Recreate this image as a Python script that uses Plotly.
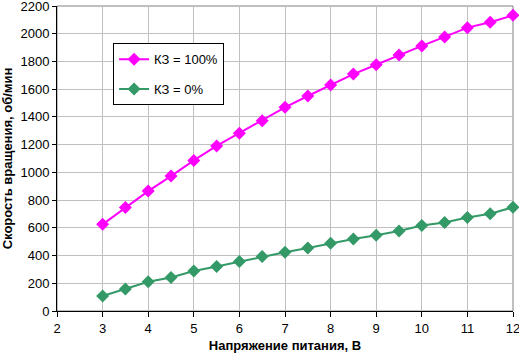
import plotly.graph_objects as go

voltage = [3, 3.5, 4, 4.5, 5, 5.5, 6, 6.5, 7, 7.5, 8, 8.5, 9, 9.5, 10, 10.5, 11, 11.5, 12]
rpm_100 = [625, 746, 865, 973, 1086, 1191, 1282, 1373, 1469, 1551, 1630, 1709, 1776, 1846, 1912, 1977, 2044, 2083, 2133]
rpm_0 = [108, 158, 211, 242, 288, 321, 357, 393, 424, 455, 489, 520, 546, 577, 616, 638, 674, 702, 748]
names = ["КЗ = 100%", "КЗ = 0%"]
colors = ["#ff00ff", "#339966"]

fig = go.Figure()
for i, (vals, nm, col) in enumerate(zip([rpm_100, rpm_0], names, colors)):
    fig.add_trace(go.Scatter(
        x=voltage, y=vals, name=nm, mode="lines+markers",
        line=dict(color=col, width=2),
        marker=dict(symbol="diamond", size=10, color=col),
        legendgroup=f"g{i}", cliponaxis=False,
    ))

font = "Liberation Sans, Arial, sans-serif"
fig.update_layout(
    width=519, height=357,
    margin=dict(l=57, r=6, t=6, b=46, autoexpand=False),
    paper_bgcolor="white", plot_bgcolor="white",
    font=dict(family=font, size=13, color="black"),
    showlegend=True,
    legend=dict(
        x=0.123, y=0.878, xanchor="left", yanchor="top",
        bgcolor="white", bordercolor="black", borderwidth=1,
        font=dict(size=13), traceorder="grouped", tracegroupgap=10,
        itemwidth=30, entrywidth=118,
    ),
    xaxis=dict(
        range=[2, 12], dtick=1, showgrid=True, gridcolor="#c0c0c0", gridwidth=1,
        showline=True, linecolor="black", linewidth=1,
        ticks="outside", ticklen=5, tickcolor="black", zeroline=False,
        automargin=False, ticklabeloverflow="allow",
        title=dict(text="<b>Напряжение питания, В</b>", font=dict(size=13), standoff=6),
    ),
    yaxis=dict(
        range=[0, 2200], dtick=200, showgrid=True, gridcolor="#c0c0c0", gridwidth=1,
        showline=True, linecolor="black", linewidth=1,
        ticks="outside", ticklen=4, tickcolor="black", zeroline=False,
        automargin=False, ticklabeloverflow="allow",
        title=dict(text="<b>Скорость вращения, об/мин</b>", font=dict(size=13), standoff=6),
    ),
    shapes=[dict(type="rect", xref="paper", yref="paper", x0=0, x1=1, y0=0, y1=1,
                 line=dict(color="#808080", width=1), layer="below")],
)

fig.write_html("out.html", config={"displayModeBar": False},
               post_script="document.body.style.margin='0';document.body.style.padding='0';")
